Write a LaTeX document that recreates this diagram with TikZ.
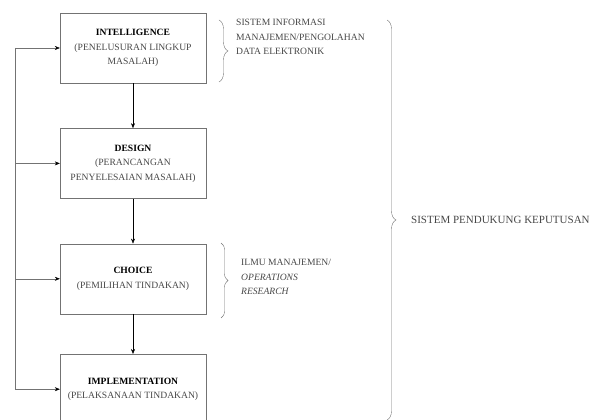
\documentclass[tikz,border=0pt]{standalone}
\usepackage{fontspec}
\setmainfont{Liberation Serif}
\usepackage{tikz}
\usetikzlibrary{arrows.meta,positioning,calc,decorations.pathreplacing}

\colorlet{linegray}{black!55}
\colorlet{txtgray}{black!72}

\begin{document}
\begin{tikzpicture}[x=1pt, y=1pt, node distance=45pt,
    font=\fontsize{9.6pt}{14.5pt}\selectfont,
    stage/.style={draw=linegray, thin, minimum width=146pt, minimum height=70pt, inner sep=0pt, align=center, text=txtgray},
    sidetext/.style={anchor=west, align=left, inner sep=0pt, text=txtgray},
    bracegray/.style={draw=linegray, thin, decorate, decoration={brace, amplitude=#1}}]

    \useasboundingbox (0,0) rectangle (594,420);

    % Stages
    \node[stage] (b1) at (133,372) {\textcolor{black}{\textbf{INTELLIGENCE}}\\(PENELUSURAN LINGKUP\\MASALAH)};
    \node[stage] (b2) [below=of b1] {\textcolor{black}{\textbf{DESIGN}}\\(PERANCANGAN\\PENYELESAIAN MASALAH)};
    \node[stage] (b3) [below=of b2] {\textcolor{black}{\textbf{CHOICE}}\\(PEMILIHAN TINDAKAN)};
    \node[stage] (b4) [below=40pt of b3] {\textcolor{black}{\textbf{IMPLEMENTATION}}\\(PELAKSANAAN TINDAKAN)};

    % Transitions between stages
    \path[-{Stealth[length=5pt,width=4pt]}, thin]
    (b1) edge (b2)
    (b2) edge (b3)
    (b3) edge (b4);

    % Feedback rail on the left
    \coordinate (rail) at (15,0);
    \foreach \i in {1,...,4}
        \coordinate (r\i) at (rail |- b\i.west);
    \draw[linegray, thin] (r1) -- (r4);
    \foreach \i in {1,...,4}
        \draw[linegray, thin, -{Stealth[length=5pt,width=4pt,black]}] (r\i) -- (b\i.west);

    % Braces and their labels
    \coordinate (t1) at (219,400);
    \coordinate (u1) at (219,338);
    \draw[bracegray=9pt] (t1) -- (u1);
    \node[sidetext] (sim) at (236,383) {SISTEM INFORMASI\\MANAJEMEN/PENGOLAHAN\\DATA ELEKTRONIK};

    \coordinate (t2) at (221,177);
    \coordinate (u2) at (221,102);
    \draw[bracegray=7pt] (t2) -- (u2);
    \node[sidetext] (ilmu) at (241,143) {ILMU MANAJEMEN/\\\textit{OPERATIONS}\\\textit{RESEARCH}};

    \coordinate (t3) at (387,400);
    \coordinate (u3) at (387,0);
    \draw[bracegray=9pt] (t3) -- (u3);
    \node[sidetext, font=\fontsize{11pt}{13pt}\selectfont] (spk) at (411,200) {SISTEM PENDUKUNG KEPUTUSAN};

\end{tikzpicture}
\end{document}
